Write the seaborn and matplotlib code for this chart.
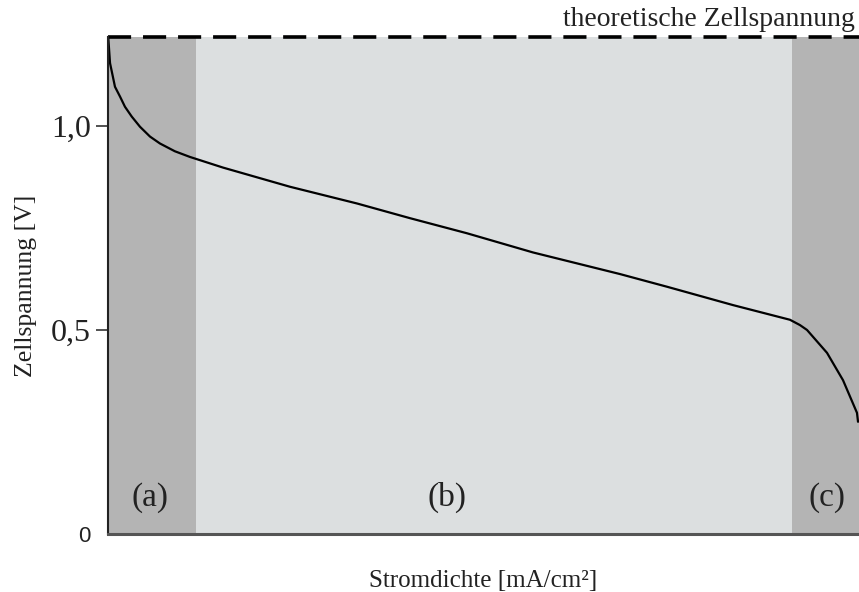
import matplotlib
matplotlib.use('Agg')
import matplotlib.pyplot as plt
import seaborn as sns
import pandas as pd

# -- Data (x in % of the plotted range) ---
stromdichte = [0.04, 0.27, 0.93, 1.60, 2.26, 3.16, 4.26, 5.59, 6.92, 8.90,
               10.92, 15.31, 24.23, 33.16, 40.21, 47.80, 56.59, 68.18, 74.43,
               83.22, 90.81, 92.14, 93.08, 95.74, 97.87, 99.73, 99.87]
zellspannung = [1.215, 1.154, 1.096, 1.072, 1.047, 1.023, 0.998, 0.974, 0.957,
                0.938, 0.924, 0.898, 0.851, 0.810, 0.774, 0.737, 0.690, 0.637,
                0.606, 0.561, 0.525, 0.512, 0.500, 0.444, 0.377, 0.297, 0.275]
U_THEORIE = 1.218
bereich_grenzen = [0.0, 11.7, 91.1, 100.0]
bereich_labels = ['(a)', '(b)', '(c)']
bereich_farben = ['#b4b4b4', '#dcdfe0', '#b4b4b4']
label_x = [5.6, 45.1, 95.7]
y_ticks = [0.0, 0.5, 1.0]
y_ticklabels = ['0', '0,5', '1,0']

df = pd.DataFrame({'x': stromdichte, 'U': zellspannung})

sns.set_style('ticks')
SERIF = ['Liberation Serif', 'DejaVu Serif']
TXT = '#222222'

fig = plt.figure(figsize=(8.59, 5.92), dpi=100)
ax = fig.add_axes([108 / 859, 58 / 592, 1 - 108 / 859, (534 - 37) / 592])

# -- Regions -----------------------------------------------------
for i, lab in enumerate(bereich_labels):
    ax.axvspan(bereich_grenzen[i], bereich_grenzen[i + 1],
               color=bereich_farben[i], lw=0, zorder=0)
    ax.text(label_x[i], 0.09, lab, ha='center', va='center',
            fontsize=24, family=SERIF, color=TXT)

# -- Curve -------------------------------------------------------
sns.lineplot(data=df, x='x', y='U', ax=ax, color='black', lw=1.6,
             sort=False, estimator=None)

# theoretical voltage (dashed, on the top edge)
ax.axhline(U_THEORIE, color='black', lw=2.6, ls=(0, (6.4, 3.3)), clip_on=False)
ax.text(99.5, 1.262, 'theoretische Zellspannung', ha='right', va='center',
        fontsize=20, family=SERIF, color=TXT)

ax.set_xlim(0, 100)
ax.set_ylim(0, U_THEORIE)
ax.set_xticks([])
ax.set_yticks(y_ticks)
ax.set_yticklabels(y_ticklabels)
for t, lab in zip(ax.get_yticklabels(), y_ticklabels):
    if lab == '0':
        t.set_family(['Liberation Sans', 'DejaVu Sans'])
        t.set_fontsize(16)
    else:
        t.set_family(SERIF)
        t.set_fontsize(23)
    t.set_color(TXT)
ax.tick_params(axis='y', length=8.5, width=1.2, color='#333333', pad=4)
ax.yaxis.get_major_ticks()[0].tick1line.set_visible(False)

ax.set_xlabel('Stromdichte [mA/cm²]', fontsize=18, family=SERIF,
              color=TXT, labelpad=26)
ax.set_ylabel('Zellspannung [V]', fontsize=18.5, family=SERIF,
              color=TXT, labelpad=10)

sns.despine(ax=ax, top=True, right=True)
ax.spines['left'].set_color(TXT)
ax.spines['left'].set_linewidth(1.5)
ax.spines['bottom'].set_color('#555555')
ax.spines['bottom'].set_linewidth(2.2)

fig.savefig('out.png', dpi=100)
